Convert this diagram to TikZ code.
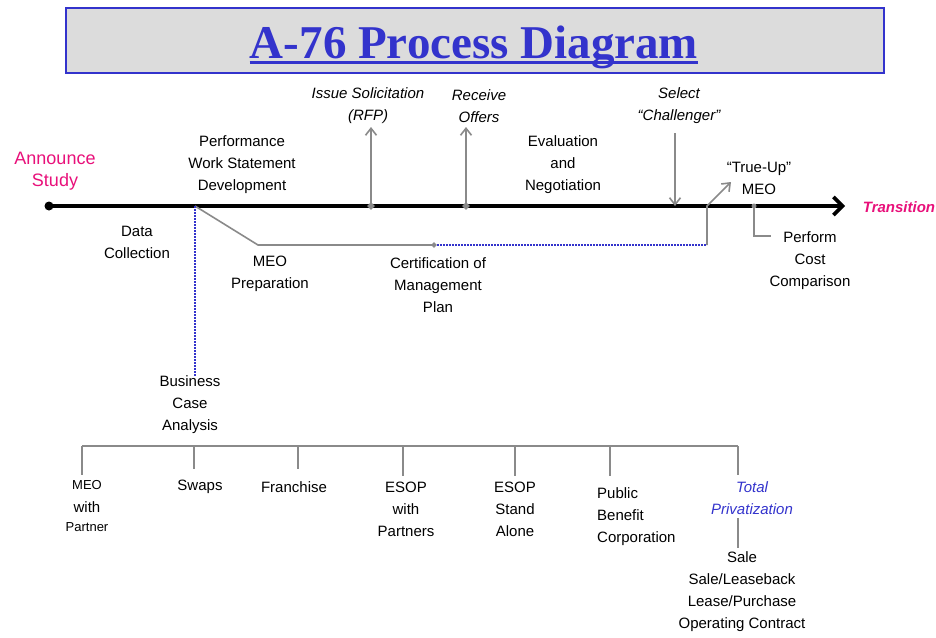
\documentclass[tikz,border=0pt]{standalone}
\usepackage{fontspec}
\setmainfont{Liberation Sans}
\newfontfamily\titlefont{Liberation Serif}
\usetikzlibrary{arrows.meta,shapes.geometric}
\definecolor{tblue}{HTML}{3333CC}
\definecolor{tgrayfill}{HTML}{DCDCDC}
\definecolor{mag}{HTML}{E8107A}
\definecolor{lgray}{HTML}{8A8A8A}
\tikzset{
  txt/.style={font=\fontsize{15}{22}\selectfont, align=center, inner sep=0pt},
  ittxt/.style={font=\fontsize{15}{22}\selectfont\itshape, align=center, inner sep=0pt},
  smalltxt/.style={font=\fontsize{13}{20}\selectfont, align=center, inner sep=0pt},
  gline/.style={draw=lgray, line width=1.6pt},
  garrow/.style={gline, -{Straight Barb[length=7pt,width=11pt,line width=1.6pt]}},
  bdot/.style={draw=tblue, line width=1.6pt, dash pattern=on 2pt off 1pt},
  gdiam/.style={diamond, fill=lgray, inner sep=0pt, minimum size=8pt},
  gsdiam/.style={diamond, fill=lgray, inner sep=0pt, minimum size=6pt},
  gdot/.style={circle, fill=lgray, inner sep=0pt, minimum size=5pt},
}
\begin{document}
\begin{tikzpicture}[x=1pt,y=-1pt]
\useasboundingbox (0,0) rectangle (936,637);
% title
\draw[tblue, fill=tgrayfill, line width=2.5pt] (66,8) rectangle (884,73);
\node[anchor=base, inner sep=0pt, text=tblue, font=\titlefont\bfseries\fontsize{47}{50}\selectfont] (title) at (474,58) {A-76 Process Diagram};
\draw[tblue, line width=3pt] ([yshift=-4.5pt]title.base west) -- ([yshift=-4.5pt]title.base east);

% timeline
\node[circle, fill=black, inner sep=0pt, minimum size=9pt] (start) at (49,206) {};
\coordinate (tend) at (845,206);
\draw[line width=3.6pt, -{Straight Barb[length=9pt,width=18pt,line width=3.6pt]}] (start.center) -- (tend);

\node[txt, text=mag, font=\fontsize{18}{22}\selectfont] (announce) at (55,171) {Announce\\Study};
\node[txt, text=mag, font=\fontsize{15}{22}\selectfont\bfseries\itshape] (transition) at (899,207) {Transition};

\node[txt] (pws) at (242,165) {Performance\\Work Statement\\Development};
\node[txt] (data) at (137,242) {Data\\Collection};
\node[txt] (meoprep) at (270,274) {MEO\\Preparation};
\node[txt] (cert) at (438,285) {Certification of\\Management\\Plan};
\node[ittxt] (issue) at (368,106) {Issue Solicitation\\(RFP)};
\node[ittxt] (receive) at (479,106) {Receive\\Offers};
\node[txt] (eval) at (563,165) {Evaluation\\and\\Negotiation};
\node[ittxt] (select) at (679,106) {Select\\``Challenger''};
\node[txt] (trueup) at (759,178) {``True-Up''\\MEO};
\node[txt] (perform) at (810,261) {Perform\\Cost\\Comparison};

% branch from PWS point
\coordinate (bp) at (195,206);
\coordinate (meok) at (258,245);
\node[gsdiam] (certd) at (434,245) {};
\coordinate (tuk) at (707,245);
\coordinate (tub) at (707,206);
\coordinate (tutip) at (731,182);
\draw[gline] (bp) -- (meok) -- (certd.center);
\draw[bdot] (certd.east) -- (tuk);
\draw[gline, -{Straight Barb[length=7pt,width=11pt,line width=1.6pt]}] (tuk) -- (tub) -- (tutip);

% arrows on timeline
\node[gdiam] (issued) at (371,206) {};
\coordinate (issuetip) at (371,127);
\draw[garrow] (issued.center) -- (issuetip);
\node[gdiam] (received) at (466,206) {};
\coordinate (receivetip) at (466,127);
\draw[garrow] (received.center) -- (receivetip);
\coordinate (selstart) at (675,133);
\coordinate (selend) at (675,206);
\draw[garrow] (selstart) -- (selend);

\node[gdot] (pcd) at (754,206) {};
\coordinate (pck) at (754,236);
\coordinate (pce) at (771,236);
\draw[gline] (pcd.center) -- (pck) -- (pce);

% business case
\node[txt] (bca) at (190,405) {Business\\Case\\Analysis};
\draw[bdot] (bp) -- (195,376);

\coordinate (hl) at (82,446);
\coordinate (hr) at (738,446);
\draw[gline] (hl) -- (hr);
\foreach \n/\x/\yb in {a/82/475, b/194/469, c/298/469, d/403/476, e/515/476, f/610/476, g/738/475}{
  \coordinate (t\n) at (\x,446);
  \coordinate (u\n) at (\x,\yb);
  \draw[gline] (t\n) -- (u\n);
}
\node[smalltxt] (meo1) at (87,485) {MEO};
\node[txt] (with1) at (87,507) {with};
\node[smalltxt] (partner1) at (87,527) {Partner};
\node[txt] (swaps) at (200,487) {Swaps};
\node[txt] (franchise) at (294,487) {Franchise};
\node[txt] (esopw) at (406,509) {ESOP\\with\\Partners};
\node[txt] (esops) at (515,509) {ESOP\\Stand\\Alone};
\node[txt, align=left, anchor=west] (pbc) at (597,517) {Public\\Benefit\\Corporation};
\node[ittxt, text=tblue] (total) at (752,498) {Total\\Privatization};
\coordinate (tpa) at (738,518);
\coordinate (tpb) at (738,548);
\draw[gline] (tpa) -- (tpb);
\node[txt] (sale) at (742,592) {Sale\\Sale/Leaseback\\Lease/Purchase\\Operating Contract};
\end{tikzpicture}
\end{document}
